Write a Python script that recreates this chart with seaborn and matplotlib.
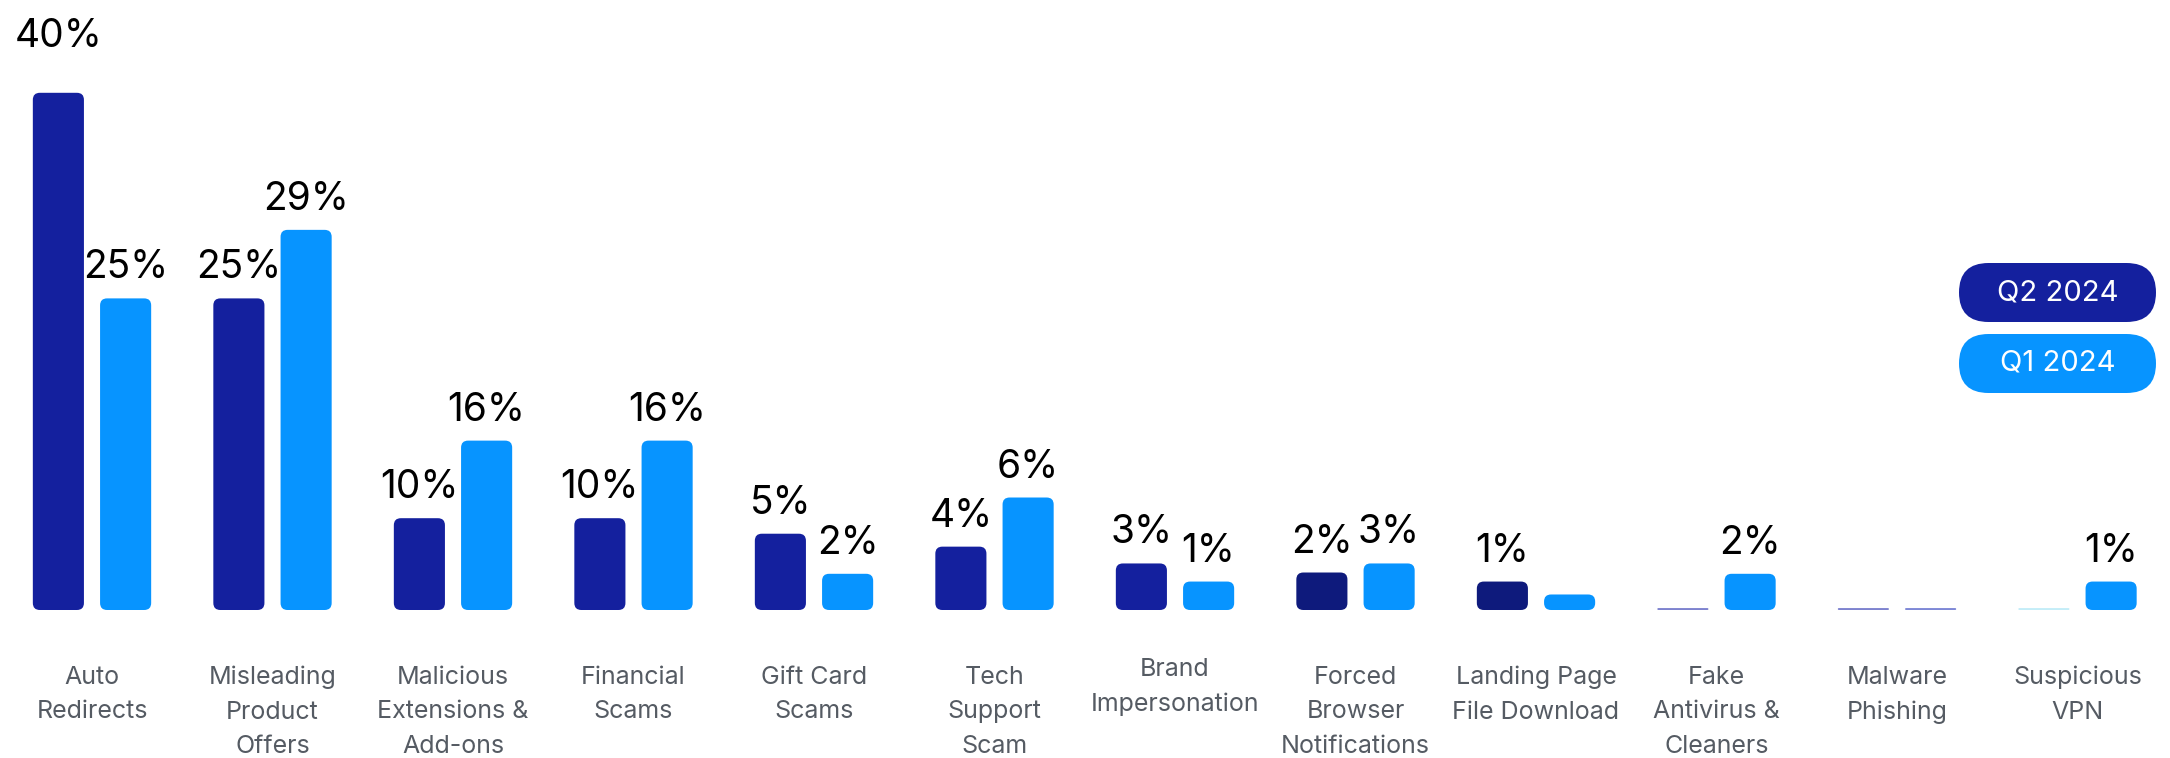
import pandas as pd
import numpy as np
import matplotlib
matplotlib.use("Agg")
import matplotlib.pyplot as plt
import matplotlib.transforms as mtransforms
from matplotlib.patches import FancyBboxPatch
import seaborn as sns

# categories shown on the x axis (line breaks as in the picture)
categories = ["Auto\nRedirects", "Misleading\nProduct\nOffers", "Malicious\nExtensions &\nAdd-ons",
              "Financial\nScams", "Gift Card\nScams", "Tech\nSupport\nScam", "Brand\nImpersonation",
              "Forced\nBrowser\nNotifications", "Landing Page\nFile Download", "Fake\nAntivirus &\nCleaners",
              "Malware\nPhishing", "Suspicious\nVPN"]
periods = ["Q2 2024", "Q1 2024"]

# bar heights as drawn in the picture (in %), printed labels are separate
q2_values = [40.0, 24.1, 7.1, 7.1, 5.9, 4.9, 3.6, 2.9, 2.2, 0.15, 0.15, 0.15]
q1_values = [24.1, 29.4, 13.1, 13.1, 2.8, 8.7, 2.2, 3.6, 1.2, 2.8, 0.15, 2.2]
q2_labels = ["40%", "25%", "10%", "10%", "5%", "4%", "3%", "2%", "1%", "", "", ""]
q1_labels = ["25%", "29%", "16%", "16%", "2%", "6%", "1%", "3%", "", "2%", "", "1%"]

# colours
DARK = "#14209e"
LIGHT = "#0794ff"
q2_colors = [DARK] * 7 + ["#0e1a7c", "#0e1a7c", "#7e83cf", "#7e83cf", "#c4edf8"]
q1_colors = [LIGHT] * 10 + ["#7e88d6", LIGHT]

df = pd.DataFrame({
    "category": categories * 2,
    "period": [periods[0]] * len(categories) + [periods[1]] * len(categories),
    "value": q2_values + q1_values,
})

sns.set_theme(style="white")
plt.rcParams["font.family"] = ["Inter", "DejaVu Sans"]

W, H = 2170, 758
fig = plt.figure(figsize=(W / 100, H / 100), dpi=100)
ax = fig.add_axes([0, 148 / H, 1, 610 / H])

sns.barplot(data=df, x="category", y="value", hue="period", order=categories,
            hue_order=periods, palette={periods[0]: DARK, periods[1]: LIGHT},
            saturation=1, width=0.745, gap=0.24, legend=False, ax=ax)

ax.set_xlim(-92 / 180.5, (W - 92) / 180.5)
ax.set_ylim(0, 610 / 12.93)
x_per_px = (ax.get_xlim()[1] - ax.get_xlim()[0]) / W
y_per_px = (ax.get_ylim()[1] - ax.get_ylim()[0]) / 610

extra_lift = {(0, 0): 26}  # the 40% label sits higher

for k, (container, labels, colors) in enumerate(zip(ax.containers, [q2_labels, q1_labels],
                                                    [q2_colors, q1_colors])):
    for i, (bar, lab, col) in enumerate(zip(container, labels, colors)):
        x, y = bar.get_x(), bar.get_y()
        w, h = bar.get_width(), bar.get_height()
        r_px = min(7, h / y_per_px / 2, w / x_per_px / 2)
        bar.set_visible(False)
        ax.add_patch(FancyBboxPatch((x, y), w, h,
                                    boxstyle=f"round,pad=0,rounding_size={r_px * x_per_px}",
                                    mutation_aspect=y_per_px / x_per_px,
                                    fc=col, ec="none"))
        if lab:
            lift = (20 + extra_lift.get((k, i), 0)) * 0.72
            ax.annotate(lab, (x + w / 2, y + h), xytext=(0, lift), textcoords="offset points",
                        ha="center", va="baseline", fontsize=28, color="black")

ax.set_xlabel("")
ax.set_ylabel("")
ax.set_yticks([])
ax.tick_params(axis="x", length=0, pad=40, labelsize=18, labelcolor="#555b63")
for lbl in ax.get_xticklabels():
    lbl.set_linespacing(1.65)
    if lbl.get_text().startswith("Brand"):
        lbl.set_transform(lbl.get_transform() +
                          mtransforms.ScaledTranslation(0, 8 / 100, fig.dpi_scale_trans))
sns.despine(ax=ax, left=True, bottom=True)

# legend pills at the right
for j, (name, col) in enumerate(zip(periods, [DARK, LIGHT])):
    top = 263 + j * 71
    x0, y0 = 1959 / 100, (H - top - 59) / 100
    fig.patches.append(FancyBboxPatch((x0, y0), 1.97, 0.59,
                                      boxstyle="round,pad=0,rounding_size=0.295",
                                      transform=fig.dpi_scale_trans, fc=col, ec="none",
                                      figure=fig))
    fig.text(x0 + 1.97 / 2, y0 + 0.295, name, transform=fig.dpi_scale_trans,
             ha="center", va="center", fontsize=21, color="white")

fig.savefig("out.png", dpi=100)
